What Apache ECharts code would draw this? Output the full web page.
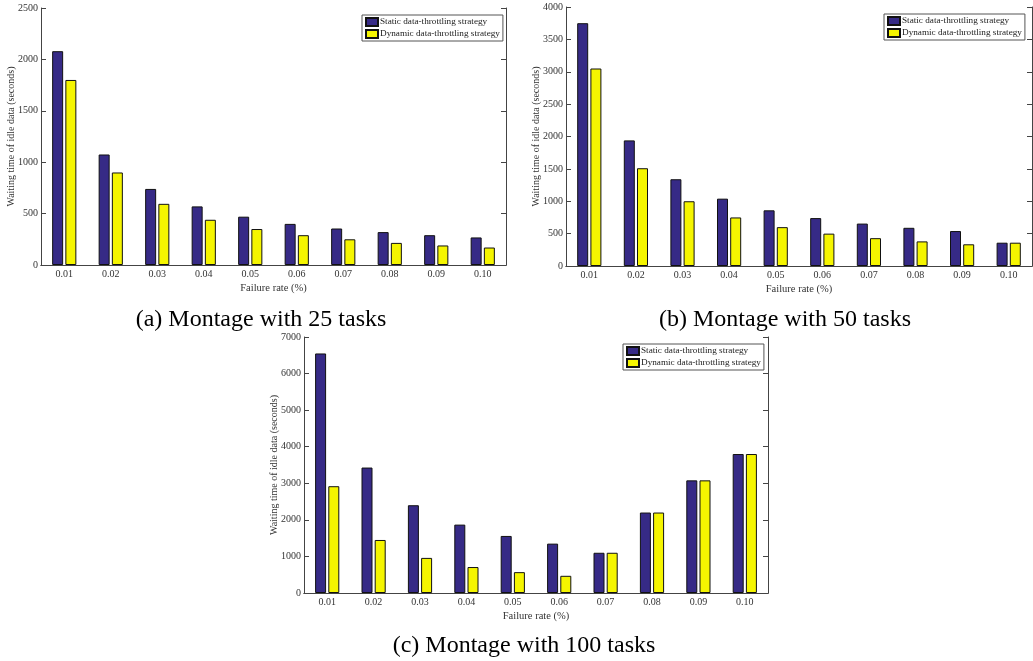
<!DOCTYPE html>
<html>
<head>
<meta charset="utf-8">
<script src="https://cdn.jsdelivr.net/npm/echarts@6/dist/echarts.min.js"></script>
<style>
    html, body { margin: 0; padding: 0; background: #fff; }
    #main { width: 1033px; height: 661px; }
</style>
</head>
<body>
<div id="main"></div>
<script>
    var rates = ['0.01', '0.02', '0.03', '0.04', '0.05', '0.06', '0.07', '0.08', '0.09', '0.10'];
    var seriesNames = ['Static data-throttling strategy', 'Dynamic data-throttling strategy'];
    var captions = ['(a) Montage with 25 tasks', '(b) Montage with 50 tasks', '(c) Montage with 100 tasks'];

    // (a) 25 tasks
    var static25 = [2080, 1075, 740, 570, 470, 400, 355, 320, 290, 268];
    var dynamic25 = [1800, 900, 595, 440, 350, 290, 250, 215, 190, 170];
    // (b) 50 tasks
    var static50 = [3750, 1940, 1340, 1040, 860, 740, 655, 590, 540, 360];
    var dynamic50 = [3050, 1510, 1000, 750, 600, 500, 430, 380, 335, 360];
    // (c) 100 tasks
    var static100 = [6550, 3430, 2400, 1870, 1560, 1350, 1100, 2200, 3080, 3800];
    var dynamic100 = [2920, 1450, 960, 710, 570, 470, 1100, 2200, 3080, 3800];

    var yMax = [2500, 4000, 7000];
    var yStep = [500, 500, 1000];

    var font = 'Liberation Serif';
    var lineColor = '#444';
    var colors = ['#362a86', '#f5f500'];

    var grids = [
        {left: 41, top: 8, width: 465, height: 257, outerBoundsMode: 'none'},
        {left: 566, top: 7, width: 466, height: 259, outerBoundsMode: 'none'},
        {left: 304, top: 337, width: 464, height: 256, outerBoundsMode: 'none'}
    ];
    var legendPos = [[362, 15], [884, 14], [623, 344]];
    var titlePos = [[256, 303], [780, 303], [519, 629]];
    var data = [[static25, dynamic25], [static50, dynamic50], [static100, dynamic100]];

    var xAxes = [], yAxes = [], series = [], legends = [], titles = [];
    for (var g = 0; g < 3; g++) {
        // bottom category axis
        xAxes.push({
            type: 'category', gridIndex: g, data: rates, boundaryGap: true,
            name: 'Failure rate (%)', nameLocation: 'middle', nameGap: 18,
            nameTextStyle: {fontFamily: font, fontSize: 10.5, color: '#333'},
            axisLine: {lineStyle: {color: lineColor}},
            axisTick: {alignWithLabel: true, inside: true, length: 5, lineStyle: {color: lineColor}},
            axisLabel: {fontFamily: font, fontSize: 10, color: '#333', margin: 4}
        });
        // top mirror axis (box)
        xAxes.push({
            type: 'category', gridIndex: g, data: rates, position: 'top', boundaryGap: true,
            axisLine: {lineStyle: {color: lineColor}},
            axisTick: {alignWithLabel: true, inside: true, length: 5, lineStyle: {color: lineColor}},
            axisLabel: {show: false}
        });
        yAxes.push({
            type: 'value', gridIndex: g, min: 0, max: yMax[g], interval: yStep[g],
            name: 'Waiting time of idle data (seconds)', nameLocation: 'middle', nameGap: 25,
            nameMoveOverlap: false,
            nameTextStyle: {fontFamily: font, fontSize: 10, color: '#333'},
            axisLine: {show: true, lineStyle: {color: lineColor}},
            axisTick: {show: true, inside: true, length: 5, lineStyle: {color: lineColor}},
            axisLabel: {fontFamily: font, fontSize: 10, color: '#333', margin: 3,
                formatter: function (v) { return String(v); }},
            splitLine: {show: false}
        });
        yAxes.push({
            type: 'value', gridIndex: g, position: 'right', min: 0, max: yMax[g], interval: yStep[g],
            axisLine: {show: true, lineStyle: {color: lineColor}},
            axisTick: {show: true, inside: true, length: 5, lineStyle: {color: lineColor}},
            axisLabel: {show: false},
            splitLine: {show: false}
        });
        for (var s = 0; s < 2; s++) {
            series.push({
                name: seriesNames[s], type: 'bar',
                xAxisIndex: g * 2, yAxisIndex: g * 2,
                data: data[g][s], barWidth: 11, barGap: '20%',
                itemStyle: {color: colors[s], borderColor: '#111', borderWidth: 1}
            });
        }
        legends.push({
            data: seriesNames, orient: 'vertical',
            left: legendPos[g][0], top: legendPos[g][1],
            padding: [2, 3, 2, 3], itemGap: 2, itemWidth: 12, itemHeight: 8,
            icon: 'rect', borderColor: '#555', borderWidth: 1,
            textStyle: {fontFamily: font, fontSize: 9.2, color: '#222', padding: [0, 0, 0, -3]}
        });
        titles.push({
            text: captions[g], left: titlePos[g][0], top: titlePos[g][1], textAlign: 'center',
            textStyle: {fontFamily: font, fontSize: 24, fontWeight: 'normal', color: '#000'}
        });
    }

    var chart = echarts.init(document.getElementById('main'));
    chart.setOption({
        animation: false,
        backgroundColor: '#fff',
        title: titles,
        legend: legends,
        grid: grids,
        xAxis: xAxes,
        yAxis: yAxes,
        series: series
    });
</script>
</body>
</html>
